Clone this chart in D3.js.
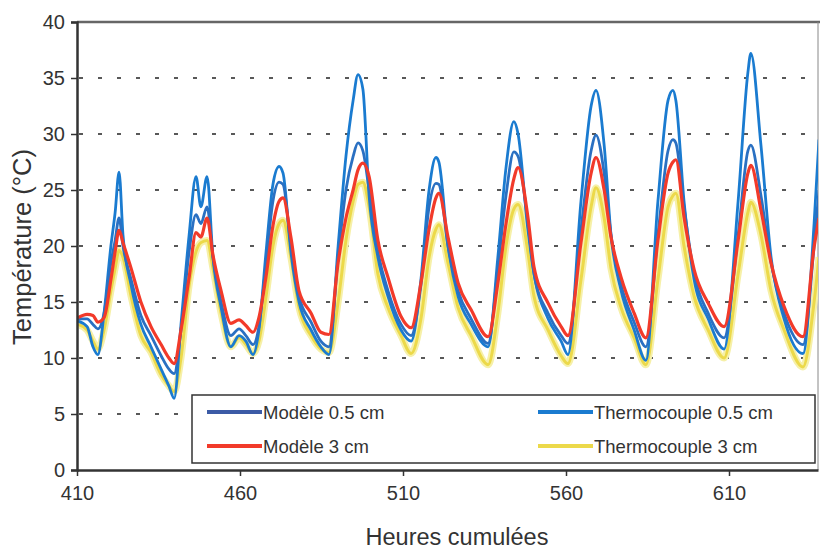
<!DOCTYPE html>
<html><head><meta charset="utf-8">
<script src="https://cdn.jsdelivr.net/npm/d3@7"></script>
<style>
html,body{margin:0;padding:0;background:#fff;}
text{font-family:"Liberation Sans",Arial,sans-serif;fill:#333;}
</style></head>
<body><svg id="chart" width="820" height="551"></svg>
<script>
const hours = [410.3,413.1,414.9,416.4,418.3,420.4,421.7,422.9,424.1,426.6,
429.6,432.7,435.8,438.2,439.8,441.9,444.4,446.5,448.0,449.9,
451.7,454.2,457.2,459.7,461.8,464.0,465.8,468.0,470.1,472.0,
473.2,475.6,478.1,481.8,484.8,487.3,490.1,492.5,494.7,496.2,
497.7,499.6,502.3,505.4,509.4,512.5,515.5,518.0,520.1,521.0,
523.8,526.9,530.9,536.1,539.1,541.6,544.0,545.3,548.3,550.2,
554.5,558.5,560.6,564.6,567.7,569.2,571.7,573.8,576.9,580.9,
584.5,588.2,591.3,592.8,593.7,596.2,599.3,603.6,608.5,612.8,
615.8,616.7,619.8,622.9,626.9,632.7,636.1,637.6];

const modele05 = [13.5,13.5,13.0,12.6,14.0,18.5,20.5,22.5,20.0,17.0,
13.8,12.0,10.2,9.0,8.6,12.5,19.5,22.8,22.0,23.5,
19.0,15.0,12.0,12.6,12.0,11.2,12.8,18.5,24.0,25.7,
25.5,20.0,15.5,13.2,11.5,11.0,19.0,25.0,28.0,29.2,
28.5,25.0,19.5,16.0,13.0,12.0,16.5,23.5,25.6,25.5,
20.0,16.0,13.5,11.3,18.0,24.5,28.4,28.0,22.0,17.5,
14.0,12.0,11.3,21.5,28.5,29.9,26.5,21.0,16.5,13.2,
11.0,21.0,28.5,29.5,29.2,23.5,17.5,14.0,11.8,21.0,
28.5,29.0,24.5,18.5,14.0,11.2,20.0,25.0];

const thermo05 = [13.3,12.8,11.0,10.3,14.0,20.0,23.0,26.6,21.0,16.5,
13.0,11.0,9.0,7.5,6.4,13.0,21.0,26.2,23.5,26.2,
19.0,14.5,11.0,12.0,11.5,10.3,12.5,19.5,25.5,27.1,
26.5,19.5,15.0,12.5,11.0,10.3,20.0,28.0,33.0,35.3,
34.0,24.5,19.0,15.5,12.5,11.5,17.0,25.0,27.9,27.5,
20.0,15.5,13.0,11.0,19.0,27.0,31.1,30.0,21.5,17.5,
13.5,11.5,10.3,24.0,32.5,33.9,29.0,21.0,16.0,12.5,
9.8,24.0,33.0,33.9,33.0,24.0,17.0,13.5,10.8,24.0,
35.5,37.2,29.0,19.0,13.5,10.4,22.0,29.5];

const modele3 = [13.6,13.9,13.8,13.2,13.6,17.0,19.5,21.4,20.3,18.0,
15.0,12.8,11.2,10.0,9.5,12.5,17.2,21.2,20.8,22.5,
19.2,16.0,13.1,13.4,12.9,12.3,13.6,17.3,21.8,24.0,
24.3,20.8,16.0,14.0,12.3,12.1,18.5,22.5,25.0,26.8,
27.4,26.2,20.5,17.2,13.7,12.7,16.7,21.5,24.3,24.7,
20.8,16.7,14.3,11.9,16.7,22.0,26.0,27.0,22.6,18.1,
14.9,12.8,12.0,20.3,26.5,27.9,25.0,20.8,17.2,14.0,
11.8,20.5,26.5,27.5,27.7,22.6,17.9,14.9,12.8,20.5,
26.5,27.2,23.2,18.5,14.6,11.9,19.9,22.5];

const thermo3 = [13.0,12.5,11.5,10.8,12.5,16.0,18.0,19.6,19.0,15.5,
12.0,10.5,8.5,7.5,7.0,10.0,16.5,19.5,20.3,20.5,
18.0,14.0,11.0,11.8,11.2,10.4,11.5,15.5,20.0,22.0,
22.3,19.0,14.5,12.0,10.8,10.5,15.0,20.5,24.0,25.5,
25.7,23.5,17.5,14.5,12.0,10.4,13.5,19.0,21.5,21.9,
18.5,14.5,12.0,9.4,14.0,20.0,23.3,23.7,19.5,15.5,
12.5,10.2,9.5,17.0,23.5,25.2,22.5,18.0,14.5,11.8,
9.4,17.0,23.5,24.5,24.7,20.0,15.5,12.5,10.0,17.5,
23.0,23.9,21.0,16.0,12.5,9.2,15.0,19.0];

const seriesNames = ["Modèle 0.5 cm","Thermocouple 0.5 cm","Modèle 3 cm","Thermocouple 3 cm"];
const seriesColors = ["#2a70c2","#1a7bd0","#f23a2a","#ecd94a"];
const xTicks = [410,460,510,560,610];
const yTicks = [0,5,10,15,20,25,30,35,40];
const xTitle = "Heures cumulées";
const yTitle = "Température (°C)";

const svg = d3.select("#chart");
const L = 77, R = 818, T = 22, B = 470;
const x = d3.scaleLinear().domain([410, 410 + (R - L) / 3.26]).range([L, R]);
const y = d3.scaleLinear().domain([0, 40]).range([B, T]);

svg.append("defs").append("clipPath").attr("id","clip")
  .append("rect").attr("x",L).attr("y",T).attr("width",R-L).attr("height",B-T);

// grid
svg.append("g").selectAll("line").data(yTicks.filter(d => d > 0 && d < 40)).join("line")
  .attr("x1", L+2).attr("x2", R).attr("y1", d => y(d)).attr("y2", d => y(d))
  .attr("stroke","#222").attr("stroke-width",1.6).attr("stroke-dasharray","4,15");

// frame top & right
svg.append("line").attr("x1",L).attr("x2",R+2).attr("y1",y(40)).attr("y2",y(40))
  .attr("stroke","#666").attr("stroke-width",2.5);
svg.append("line").attr("x1",R).attr("x2",R).attr("y1",y(40)).attr("y2",B)
  .attr("stroke","#888").attr("stroke-width",1);

const line = vals => d3.line().x((d,i) => x(hours[i])).y(d => y(d)).curve(d3.curveMonotoneX)(vals);
const g = svg.append("g").attr("clip-path","url(#clip)");
g.append("path").attr("d", line(thermo3)).attr("fill","none").attr("stroke","#f6f0a8").attr("stroke-width",7).attr("stroke-linejoin","round");
g.append("path").attr("d", line(thermo3)).attr("fill","none").attr("stroke",seriesColors[3]).attr("stroke-width",3).attr("stroke-linejoin","round");
g.append("path").attr("d", line(thermo05)).attr("fill","none").attr("stroke",seriesColors[1]).attr("stroke-width",2.8).attr("stroke-linejoin","round");
g.append("path").attr("d", line(modele05)).attr("fill","none").attr("stroke",seriesColors[0]).attr("stroke-width",2.8).attr("stroke-linejoin","round");
g.append("path").attr("d", line(modele3)).attr("fill","none").attr("stroke",seriesColors[2]).attr("stroke-width",3.2).attr("stroke-linejoin","round");

// axes
const ya = svg.append("g").attr("transform",`translate(${L},0)`)
  .call(d3.axisLeft(y).tickValues(yTicks).tickSize(6).tickPadding(6));
ya.select(".domain").attr("stroke","#333").attr("stroke-width",2.5);
ya.selectAll(".tick line").attr("stroke","#333").attr("stroke-width",1.5);
ya.selectAll("text").attr("font-size",20).attr("fill","#333");

const xa = svg.append("g").attr("transform",`translate(0,${B})`)
  .call(d3.axisBottom(x).tickValues(xTicks).tickSize(6).tickPadding(10).tickSizeOuter(0));
xa.select(".domain").attr("stroke","#333").attr("stroke-width",2.5);
xa.selectAll(".tick line").attr("stroke","#333").attr("stroke-width",1.5);
xa.selectAll("text").attr("font-size",20).attr("fill","#333");

svg.append("text").attr("x",457).attr("y",545).attr("text-anchor","middle")
  .attr("font-size",23.5).text(xTitle);
svg.append("text").attr("transform","translate(31,247) rotate(-90)").attr("text-anchor","middle")
  .attr("font-size",25.5).text(yTitle);

// legend
const lg = svg.append("g");
lg.append("rect").attr("x",192).attr("y",395).attr("width",623).attr("height",68)
  .attr("fill","#fff").attr("stroke","#333").attr("stroke-width",1.5);
const pos = [[207,412],[538,412],[207,446],[538,446]];
seriesNames.forEach((n,i) => {
  const [px,py] = pos[i];
  lg.append("line").attr("x1",px).attr("x2",px+55).attr("y1",py).attr("y2",py)
    .attr("stroke", i===0 ? "#3c5ba6" : seriesColors[i]).attr("stroke-width",4);
  lg.append("text").attr("x",px+56).attr("y",py+6.5).attr("font-size",18.5).text(n);
});
</script></body></html>
